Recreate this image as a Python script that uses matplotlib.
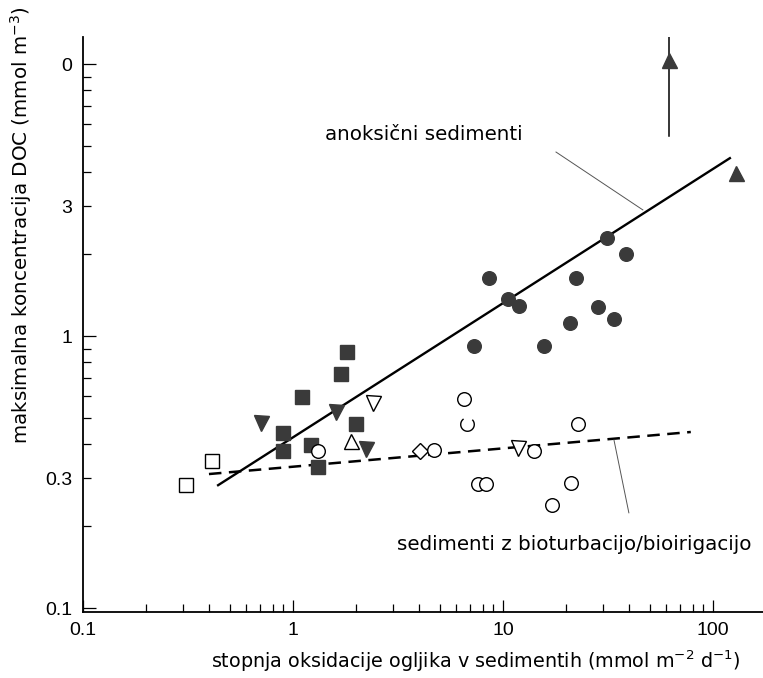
import matplotlib
matplotlib.use('Agg')
import matplotlib.pyplot as plt
import matplotlib.path as mpath
from matplotlib.ticker import FixedLocator, FuncFormatter, NullFormatter

# anoksični sedimenti (polni simboli)
sq_x = [1.81, 1.69, 1.10, 0.896, 0.896, 1.22, 2.0, 1.32]
sq_y = [0.873, 0.725, 0.597, 0.440, 0.378, 0.397, 0.475, 0.330]
tdn_x = [0.704, 1.60, 2.23]
tdn_y = [0.479, 0.526, 0.384]
ci_x = [31.3, 38.5, 8.57, 22.3, 10.6, 11.9, 28.3, 33.8, 20.8, 7.28, 15.7]
ci_y = [2.29, 2.00, 1.63, 1.63, 1.37, 1.29, 1.28, 1.155, 1.116, 0.919, 0.919]
tup_x = [61.7, 128.8]
tup_y = [10.35, 3.97]
up_bar_x = [61.7, 61.7]
up_bar_y = [13.0, 5.44]

# sedimenti z bioturbacijo/bioirigacijo (prazni simboli)
osq_x = [0.411, 0.309]
osq_y = [0.347, 0.283]
otdn_x = [2.40, 11.8]
otdn_y = [0.567, 0.388]
otup_x = [1.89]
otup_y = [0.411]
odia_x = [4.02]
odia_y = [0.378]
oci_x = [1.32, 6.52, 22.8, 4.69, 14.1, 7.60, 8.30, 21.1, 17.1]
oci_y = [0.378, 0.587, 0.475, 0.381, 0.378, 0.286, 0.286, 0.288, 0.239]
arc_x = [6.74]
arc_y = [0.475]

# regresijski premici in kazalni črti do napisov
fit_anox_x = [0.44, 120.5]
fit_anox_y = [0.283, 4.51]
fit_bio_x = [0.398, 78.5]
fit_bio_y = [0.311, 0.444]
lead_anox_x = [17.9, 46.4]
lead_anox_y = [4.75, 2.91]
lead_bio_x = [33.8, 39.8]
lead_bio_y = [0.415, 0.224]

x_ticks = [0.1, 1, 10, 100]
x_labels = ['0.1', '1', '10', '100']
y_major = [0.1, 1, 10]
y_major_labels = ['0.1', '1', '0']
y_minor_labels = {0.3: '0.3', 3: '3'}

fill = '#3a3a3a'
fig = plt.figure(figsize=(7.63, 6.78), dpi=100)
ax = fig.add_axes([0.1088, 0.0973, 0.891, 0.848])
ax.set_xscale('log'); ax.set_yscale('log')
ax.set_xlim(0.1, 173); ax.set_ylim(0.0967, 12.57)

ax.plot(fit_anox_x, fit_anox_y, color='black', lw=1.7, zorder=2)
ax.plot(fit_bio_x, fit_bio_y, color='black', lw=1.8, ls=(0, (5, 3)), zorder=2)
ax.plot(up_bar_x, up_bar_y, color='black', lw=1.1, zorder=2)
ax.plot(lead_anox_x, lead_anox_y, color='#555555', lw=0.7)
ax.plot(lead_bio_x, lead_bio_y, color='#555555', lw=0.7)

ms = 9.8
kw_f = dict(ls='none', color=fill, mec=fill, zorder=3)
kw_o = dict(ls='none', mfc='white', mec='black', mew=1.0, zorder=3)
ax.plot(sq_x, sq_y, marker='s', ms=ms, **kw_f)
ax.plot(tdn_x, tdn_y, marker='v', ms=ms + 1, **kw_f)
ax.plot(ci_x, ci_y, marker='o', ms=ms, **kw_f)
ax.plot(tup_x, tup_y, marker='^', ms=ms + 1, **kw_f)
ax.plot(osq_x, osq_y, marker='s', ms=ms, **kw_o)
ax.plot(otdn_x, otdn_y, marker='v', ms=ms + 1, **kw_o)
ax.plot(otup_x, otup_y, marker='^', ms=ms + 1, **kw_o)
ax.plot(odia_x, odia_y, marker='D', ms=ms - 1.5, **kw_o)
ax.plot(oci_x, oci_y, marker='o', ms=ms, **kw_o)
ax.plot(arc_x, arc_y, marker=mpath.Path.arc(125, 405), ms=ms, ls='none',
        mfc='none', mec='black', mew=1.0, zorder=3)

for s in ('top', 'right'):
    ax.spines[s].set_visible(False)
for s in ('left', 'bottom'):
    ax.spines[s].set_linewidth(1.3)

ax.xaxis.set_major_locator(FixedLocator(x_ticks))
ax.set_xticklabels(x_labels)
ax.yaxis.set_major_locator(FixedLocator(y_major))
ax.set_yticklabels(y_major_labels)
ax.yaxis.set_minor_formatter(FuncFormatter(
    lambda v, p: next((t for k, t in y_minor_labels.items() if abs(v - k) < 1e-6), '')))
ax.xaxis.set_minor_formatter(NullFormatter())
ax.tick_params(which='both', direction='in', width=0.9, labelsize=14,
               labelfontfamily='Liberation Sans')
ax.tick_params(which='major', length=9)
ax.tick_params(which='minor', length=5.5)
ax.tick_params(axis='x', which='both', pad=7)
ax.tick_params(axis='y', which='both', pad=8)

lab_font = dict(family='DejaVu Sans', fontsize=14.3)
ax.set_xlabel('stopnja oksidacije ogljika v sedimentih (mmol m$^{-2}$ d$^{-1}$)',
              family='DejaVu Sans', fontsize=13.8)
ax.xaxis.set_label_coords(0.578, -0.064)
ax.set_ylabel('maksimalna koncentracija DOC (mmol m$^{-3}$)', **lab_font)
ax.yaxis.set_label_coords(-0.072, 0.673)

fig.text(325 / 763, 1 - 135 / 678, 'anoksični sedimenti', ha='left', va='center', **lab_font)
fig.text(397 / 763, 1 - 545 / 678, 'sedimenti z bioturbacijo/bioirigacijo', ha='left', va='center', **lab_font)

fig.savefig('out.png', dpi=100)
